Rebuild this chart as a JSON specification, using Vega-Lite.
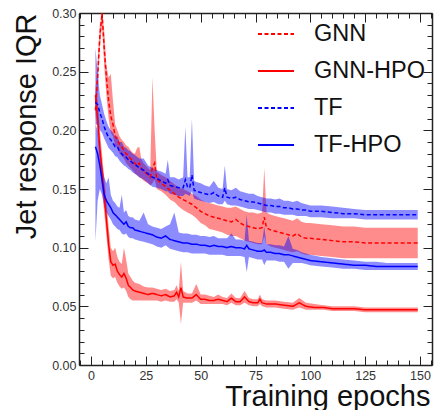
{
"$schema": "https://vega.github.io/schema/vega-lite/v6.json",
"width": 353, "height": 352,
"autosize": {"type": "none"},
"padding": {"left": 79, "top": 13, "right": 4, "bottom": 45},
"background": "white",
"config": {
  "view": {"stroke": null},
  "font": "Liberation Sans",
  "axis": {"grid": false, "domainColor": "#222", "domainWidth": 1.5, "tickColor": "#222", "tickWidth": 1,
    "labelFont": "Liberation Sans", "labelFontSize": 12.5, "labelColor": "#333",
    "titleFont": "Liberation Sans", "titleFontSize": 29, "titleFontWeight": "normal", "titleColor": "#111"}
},
"data": {"values": [
{"s":"GNN","e":2,"y":0.217,"lo":0.208,"hi":0.228},
{"s":"GNN","e":3,"y":0.245,"lo":0.235,"hi":0.26},
{"s":"GNN","e":4,"y":0.28,"lo":0.27,"hi":0.29},
{"s":"GNN","e":5,"y":0.3,"lo":0.29,"hi":0.3},
{"s":"GNN","e":6,"y":0.27,"lo":0.255,"hi":0.285},
{"s":"GNN","e":7,"y":0.245,"lo":0.23,"hi":0.255},
{"s":"GNN","e":8,"y":0.225,"lo":0.21,"hi":0.245},
{"s":"GNN","e":9,"y":0.212,"lo":0.198,"hi":0.248},
{"s":"GNN","e":10,"y":0.205,"lo":0.195,"hi":0.225},
{"s":"GNN","e":11,"y":0.195,"lo":0.187,"hi":0.205},
{"s":"GNN","e":12,"y":0.192,"lo":0.185,"hi":0.2},
{"s":"GNN","e":13,"y":0.188,"lo":0.18,"hi":0.195},
{"s":"GNN","e":14,"y":0.186,"lo":0.178,"hi":0.192},
{"s":"GNN","e":15,"y":0.183,"lo":0.176,"hi":0.19},
{"s":"GNN","e":16,"y":0.18,"lo":0.172,"hi":0.187},
{"s":"GNN","e":17,"y":0.178,"lo":0.17,"hi":0.186},
{"s":"GNN","e":18,"y":0.176,"lo":0.168,"hi":0.183},
{"s":"GNN","e":19,"y":0.174,"lo":0.166,"hi":0.181},
{"s":"GNN","e":20,"y":0.172,"lo":0.163,"hi":0.18},
{"s":"GNN","e":21,"y":0.17,"lo":0.162,"hi":0.185},
{"s":"GNN","e":22,"y":0.172,"lo":0.16,"hi":0.186},
{"s":"GNN","e":23,"y":0.167,"lo":0.159,"hi":0.175},
{"s":"GNN","e":24,"y":0.165,"lo":0.157,"hi":0.172},
{"s":"GNN","e":26,"y":0.162,"lo":0.155,"hi":0.168},
{"s":"GNN","e":27,"y":0.16,"lo":0.153,"hi":0.166},
{"s":"GNN","e":28,"y":0.168,"lo":0.155,"hi":0.245},
{"s":"GNN","e":29,"y":0.172,"lo":0.158,"hi":0.2},
{"s":"GNN","e":30,"y":0.158,"lo":0.15,"hi":0.165},
{"s":"GNN","e":32,"y":0.155,"lo":0.148,"hi":0.162},
{"s":"GNN","e":34,"y":0.152,"lo":0.145,"hi":0.16},
{"s":"GNN","e":36,"y":0.149,"lo":0.141,"hi":0.157},
{"s":"GNN","e":38,"y":0.146,"lo":0.139,"hi":0.154},
{"s":"GNN","e":40,"y":0.143,"lo":0.135,"hi":0.151},
{"s":"GNN","e":42,"y":0.141,"lo":0.132,"hi":0.15},
{"s":"GNN","e":44,"y":0.139,"lo":0.13,"hi":0.148},
{"s":"GNN","e":46,"y":0.137,"lo":0.128,"hi":0.146},
{"s":"GNN","e":48,"y":0.134,"lo":0.125,"hi":0.144},
{"s":"GNN","e":50,"y":0.131,"lo":0.121,"hi":0.141},
{"s":"GNN","e":52,"y":0.129,"lo":0.119,"hi":0.139},
{"s":"GNN","e":54,"y":0.127,"lo":0.116,"hi":0.138},
{"s":"GNN","e":56,"y":0.126,"lo":0.115,"hi":0.137},
{"s":"GNN","e":58,"y":0.125,"lo":0.114,"hi":0.136},
{"s":"GNN","e":60,"y":0.124,"lo":0.113,"hi":0.135},
{"s":"GNN","e":62,"y":0.123,"lo":0.111,"hi":0.134},
{"s":"GNN","e":64,"y":0.122,"lo":0.11,"hi":0.134},
{"s":"GNN","e":66,"y":0.124,"lo":0.11,"hi":0.135},
{"s":"GNN","e":68,"y":0.121,"lo":0.108,"hi":0.133},
{"s":"GNN","e":70,"y":0.119,"lo":0.106,"hi":0.131},
{"s":"GNN","e":72,"y":0.118,"lo":0.105,"hi":0.13},
{"s":"GNN","e":74,"y":0.117,"lo":0.104,"hi":0.13},
{"s":"GNN","e":76,"y":0.116,"lo":0.103,"hi":0.129},
{"s":"GNN","e":78,"y":0.117,"lo":0.103,"hi":0.13},
{"s":"GNN","e":79,"y":0.126,"lo":0.11,"hi":0.168},
{"s":"GNN","e":80,"y":0.117,"lo":0.103,"hi":0.13},
{"s":"GNN","e":82,"y":0.115,"lo":0.101,"hi":0.128},
{"s":"GNN","e":84,"y":0.114,"lo":0.1,"hi":0.127},
{"s":"GNN","e":86,"y":0.113,"lo":0.099,"hi":0.126},
{"s":"GNN","e":88,"y":0.112,"lo":0.098,"hi":0.125},
{"s":"GNN","e":90,"y":0.111,"lo":0.097,"hi":0.124},
{"s":"GNN","e":92,"y":0.11,"lo":0.096,"hi":0.123},
{"s":"GNN","e":94,"y":0.112,"lo":0.097,"hi":0.125},
{"s":"GNN","e":96,"y":0.109,"lo":0.095,"hi":0.122},
{"s":"GNN","e":98,"y":0.108,"lo":0.094,"hi":0.121},
{"s":"GNN","e":100,"y":0.108,"lo":0.094,"hi":0.121},
{"s":"GNN","e":105,"y":0.107,"lo":0.093,"hi":0.12},
{"s":"GNN","e":110,"y":0.106,"lo":0.092,"hi":0.119},
{"s":"GNN","e":115,"y":0.105,"lo":0.091,"hi":0.118},
{"s":"GNN","e":120,"y":0.105,"lo":0.091,"hi":0.118},
{"s":"GNN","e":125,"y":0.104,"lo":0.091,"hi":0.117},
{"s":"GNN","e":130,"y":0.104,"lo":0.091,"hi":0.117},
{"s":"GNN","e":135,"y":0.104,"lo":0.091,"hi":0.117},
{"s":"GNN","e":140,"y":0.104,"lo":0.091,"hi":0.117},
{"s":"GNN","e":145,"y":0.104,"lo":0.091,"hi":0.117},
{"s":"GNN","e":149,"y":0.104,"lo":0.091,"hi":0.117},
{"s":"GNN-HPO","e":2,"y":0.23,"lo":0.22,"hi":0.24},
{"s":"GNN-HPO","e":3,"y":0.21,"lo":0.195,"hi":0.225},
{"s":"GNN-HPO","e":4,"y":0.185,"lo":0.17,"hi":0.2},
{"s":"GNN-HPO","e":5,"y":0.165,"lo":0.15,"hi":0.18},
{"s":"GNN-HPO","e":6,"y":0.145,"lo":0.13,"hi":0.16},
{"s":"GNN-HPO","e":7,"y":0.124,"lo":0.11,"hi":0.14},
{"s":"GNN-HPO","e":8,"y":0.103,"lo":0.09,"hi":0.118},
{"s":"GNN-HPO","e":9,"y":0.088,"lo":0.076,"hi":0.1},
{"s":"GNN-HPO","e":10,"y":0.085,"lo":0.074,"hi":0.097},
{"s":"GNN-HPO","e":11,"y":0.086,"lo":0.075,"hi":0.1},
{"s":"GNN-HPO","e":12,"y":0.08,"lo":0.07,"hi":0.092},
{"s":"GNN-HPO","e":13,"y":0.077,"lo":0.067,"hi":0.088},
{"s":"GNN-HPO","e":14,"y":0.075,"lo":0.065,"hi":0.086},
{"s":"GNN-HPO","e":15,"y":0.078,"lo":0.066,"hi":0.1},
{"s":"GNN-HPO","e":16,"y":0.074,"lo":0.063,"hi":0.09},
{"s":"GNN-HPO","e":17,"y":0.068,"lo":0.058,"hi":0.078},
{"s":"GNN-HPO","e":18,"y":0.066,"lo":0.056,"hi":0.075},
{"s":"GNN-HPO","e":19,"y":0.064,"lo":0.055,"hi":0.072},
{"s":"GNN-HPO","e":20,"y":0.063,"lo":0.055,"hi":0.07},
{"s":"GNN-HPO","e":22,"y":0.062,"lo":0.055,"hi":0.069},
{"s":"GNN-HPO","e":24,"y":0.061,"lo":0.055,"hi":0.067},
{"s":"GNN-HPO","e":26,"y":0.06,"lo":0.055,"hi":0.066},
{"s":"GNN-HPO","e":28,"y":0.061,"lo":0.055,"hi":0.066},
{"s":"GNN-HPO","e":30,"y":0.06,"lo":0.055,"hi":0.065},
{"s":"GNN-HPO","e":32,"y":0.059,"lo":0.054,"hi":0.064},
{"s":"GNN-HPO","e":34,"y":0.06,"lo":0.055,"hi":0.065},
{"s":"GNN-HPO","e":36,"y":0.058,"lo":0.054,"hi":0.063},
{"s":"GNN-HPO","e":38,"y":0.059,"lo":0.054,"hi":0.064},
{"s":"GNN-HPO","e":39,"y":0.062,"lo":0.056,"hi":0.068},
{"s":"GNN-HPO","e":40,"y":0.058,"lo":0.053,"hi":0.063},
{"s":"GNN-HPO","e":41,"y":0.066,"lo":0.035,"hi":0.088},
{"s":"GNN-HPO","e":42,"y":0.058,"lo":0.053,"hi":0.063},
{"s":"GNN-HPO","e":44,"y":0.057,"lo":0.053,"hi":0.061},
{"s":"GNN-HPO","e":46,"y":0.057,"lo":0.053,"hi":0.061},
{"s":"GNN-HPO","e":48,"y":0.06,"lo":0.055,"hi":0.069},
{"s":"GNN-HPO","e":50,"y":0.056,"lo":0.052,"hi":0.06},
{"s":"GNN-HPO","e":52,"y":0.056,"lo":0.052,"hi":0.06},
{"s":"GNN-HPO","e":54,"y":0.055,"lo":0.052,"hi":0.059},
{"s":"GNN-HPO","e":56,"y":0.055,"lo":0.052,"hi":0.058},
{"s":"GNN-HPO","e":58,"y":0.056,"lo":0.052,"hi":0.06},
{"s":"GNN-HPO","e":60,"y":0.055,"lo":0.052,"hi":0.058},
{"s":"GNN-HPO","e":62,"y":0.054,"lo":0.051,"hi":0.057},
{"s":"GNN-HPO","e":64,"y":0.057,"lo":0.053,"hi":0.061},
{"s":"GNN-HPO","e":66,"y":0.054,"lo":0.051,"hi":0.057},
{"s":"GNN-HPO","e":68,"y":0.054,"lo":0.051,"hi":0.057},
{"s":"GNN-HPO","e":70,"y":0.058,"lo":0.053,"hi":0.063},
{"s":"GNN-HPO","e":72,"y":0.054,"lo":0.051,"hi":0.057},
{"s":"GNN-HPO","e":74,"y":0.053,"lo":0.05,"hi":0.056},
{"s":"GNN-HPO","e":76,"y":0.053,"lo":0.05,"hi":0.056},
{"s":"GNN-HPO","e":77,"y":0.056,"lo":0.052,"hi":0.06},
{"s":"GNN-HPO","e":78,"y":0.053,"lo":0.05,"hi":0.056},
{"s":"GNN-HPO","e":80,"y":0.052,"lo":0.049,"hi":0.055},
{"s":"GNN-HPO","e":84,"y":0.052,"lo":0.049,"hi":0.055},
{"s":"GNN-HPO","e":88,"y":0.051,"lo":0.048,"hi":0.054},
{"s":"GNN-HPO","e":92,"y":0.05,"lo":0.047,"hi":0.053},
{"s":"GNN-HPO","e":95,"y":0.053,"lo":0.049,"hi":0.057},
{"s":"GNN-HPO","e":98,"y":0.05,"lo":0.047,"hi":0.053},
{"s":"GNN-HPO","e":102,"y":0.049,"lo":0.047,"hi":0.052},
{"s":"GNN-HPO","e":106,"y":0.049,"lo":0.047,"hi":0.051},
{"s":"GNN-HPO","e":110,"y":0.048,"lo":0.046,"hi":0.05},
{"s":"GNN-HPO","e":115,"y":0.048,"lo":0.046,"hi":0.05},
{"s":"GNN-HPO","e":120,"y":0.048,"lo":0.046,"hi":0.05},
{"s":"GNN-HPO","e":125,"y":0.047,"lo":0.045,"hi":0.049},
{"s":"GNN-HPO","e":130,"y":0.047,"lo":0.045,"hi":0.049},
{"s":"GNN-HPO","e":135,"y":0.047,"lo":0.045,"hi":0.049},
{"s":"GNN-HPO","e":140,"y":0.047,"lo":0.045,"hi":0.049},
{"s":"GNN-HPO","e":145,"y":0.047,"lo":0.045,"hi":0.049},
{"s":"GNN-HPO","e":149,"y":0.047,"lo":0.045,"hi":0.049},
{"s":"TF","e":2,"y":0.224,"lo":0.205,"hi":0.27},
{"s":"TF","e":3,"y":0.222,"lo":0.205,"hi":0.25},
{"s":"TF","e":4,"y":0.215,"lo":0.2,"hi":0.23},
{"s":"TF","e":5,"y":0.21,"lo":0.198,"hi":0.222},
{"s":"TF","e":6,"y":0.203,"lo":0.193,"hi":0.214},
{"s":"TF","e":7,"y":0.198,"lo":0.189,"hi":0.208},
{"s":"TF","e":8,"y":0.194,"lo":0.185,"hi":0.203},
{"s":"TF","e":9,"y":0.192,"lo":0.183,"hi":0.2},
{"s":"TF","e":10,"y":0.189,"lo":0.181,"hi":0.198},
{"s":"TF","e":11,"y":0.186,"lo":0.178,"hi":0.194},
{"s":"TF","e":12,"y":0.186,"lo":0.177,"hi":0.195},
{"s":"TF","e":13,"y":0.182,"lo":0.174,"hi":0.19},
{"s":"TF","e":14,"y":0.18,"lo":0.172,"hi":0.19},
{"s":"TF","e":15,"y":0.178,"lo":0.17,"hi":0.186},
{"s":"TF","e":16,"y":0.177,"lo":0.169,"hi":0.185},
{"s":"TF","e":17,"y":0.175,"lo":0.167,"hi":0.183},
{"s":"TF","e":18,"y":0.174,"lo":0.166,"hi":0.182},
{"s":"TF","e":19,"y":0.172,"lo":0.164,"hi":0.18},
{"s":"TF","e":20,"y":0.171,"lo":0.163,"hi":0.179},
{"s":"TF","e":22,"y":0.168,"lo":0.16,"hi":0.176},
{"s":"TF","e":24,"y":0.166,"lo":0.158,"hi":0.176},
{"s":"TF","e":26,"y":0.163,"lo":0.155,"hi":0.17},
{"s":"TF","e":28,"y":0.16,"lo":0.152,"hi":0.168},
{"s":"TF","e":30,"y":0.159,"lo":0.151,"hi":0.166},
{"s":"TF","e":32,"y":0.157,"lo":0.15,"hi":0.165},
{"s":"TF","e":34,"y":0.155,"lo":0.148,"hi":0.163},
{"s":"TF","e":35,"y":0.158,"lo":0.148,"hi":0.175},
{"s":"TF","e":36,"y":0.153,"lo":0.146,"hi":0.16},
{"s":"TF","e":38,"y":0.152,"lo":0.145,"hi":0.16},
{"s":"TF","e":40,"y":0.151,"lo":0.144,"hi":0.158},
{"s":"TF","e":42,"y":0.151,"lo":0.144,"hi":0.16},
{"s":"TF","e":43,"y":0.158,"lo":0.146,"hi":0.203},
{"s":"TF","e":44,"y":0.152,"lo":0.145,"hi":0.16},
{"s":"TF","e":45,"y":0.151,"lo":0.144,"hi":0.16},
{"s":"TF","e":46,"y":0.162,"lo":0.148,"hi":0.21},
{"s":"TF","e":47,"y":0.149,"lo":0.142,"hi":0.157},
{"s":"TF","e":48,"y":0.148,"lo":0.141,"hi":0.156},
{"s":"TF","e":50,"y":0.147,"lo":0.14,"hi":0.155},
{"s":"TF","e":52,"y":0.146,"lo":0.139,"hi":0.153},
{"s":"TF","e":54,"y":0.145,"lo":0.138,"hi":0.152},
{"s":"TF","e":56,"y":0.147,"lo":0.139,"hi":0.157},
{"s":"TF","e":58,"y":0.144,"lo":0.137,"hi":0.151},
{"s":"TF","e":60,"y":0.143,"lo":0.137,"hi":0.15},
{"s":"TF","e":61,"y":0.151,"lo":0.14,"hi":0.17},
{"s":"TF","e":62,"y":0.143,"lo":0.137,"hi":0.15},
{"s":"TF","e":64,"y":0.142,"lo":0.136,"hi":0.149},
{"s":"TF","e":66,"y":0.143,"lo":0.136,"hi":0.151},
{"s":"TF","e":68,"y":0.141,"lo":0.135,"hi":0.148},
{"s":"TF","e":70,"y":0.14,"lo":0.134,"hi":0.147},
{"s":"TF","e":72,"y":0.139,"lo":0.133,"hi":0.146},
{"s":"TF","e":74,"y":0.139,"lo":0.133,"hi":0.146},
{"s":"TF","e":76,"y":0.138,"lo":0.132,"hi":0.144},
{"s":"TF","e":78,"y":0.137,"lo":0.131,"hi":0.143},
{"s":"TF","e":80,"y":0.136,"lo":0.13,"hi":0.142},
{"s":"TF","e":82,"y":0.136,"lo":0.13,"hi":0.142},
{"s":"TF","e":84,"y":0.135,"lo":0.129,"hi":0.141},
{"s":"TF","e":86,"y":0.135,"lo":0.129,"hi":0.142},
{"s":"TF","e":88,"y":0.134,"lo":0.128,"hi":0.14},
{"s":"TF","e":90,"y":0.134,"lo":0.128,"hi":0.14},
{"s":"TF","e":92,"y":0.133,"lo":0.128,"hi":0.139},
{"s":"TF","e":94,"y":0.133,"lo":0.127,"hi":0.14},
{"s":"TF","e":96,"y":0.132,"lo":0.127,"hi":0.138},
{"s":"TF","e":98,"y":0.132,"lo":0.127,"hi":0.137},
{"s":"TF","e":100,"y":0.131,"lo":0.126,"hi":0.136},
{"s":"TF","e":105,"y":0.131,"lo":0.126,"hi":0.136},
{"s":"TF","e":110,"y":0.13,"lo":0.125,"hi":0.135},
{"s":"TF","e":115,"y":0.129,"lo":0.125,"hi":0.134},
{"s":"TF","e":120,"y":0.129,"lo":0.125,"hi":0.133},
{"s":"TF","e":125,"y":0.128,"lo":0.124,"hi":0.132},
{"s":"TF","e":130,"y":0.128,"lo":0.124,"hi":0.132},
{"s":"TF","e":135,"y":0.128,"lo":0.124,"hi":0.132},
{"s":"TF","e":140,"y":0.128,"lo":0.124,"hi":0.132},
{"s":"TF","e":145,"y":0.128,"lo":0.124,"hi":0.132},
{"s":"TF","e":149,"y":0.128,"lo":0.124,"hi":0.132},
{"s":"TF-HPO","e":2,"y":0.186,"lo":0.105,"hi":0.205},
{"s":"TF-HPO","e":3,"y":0.18,"lo":0.14,"hi":0.2},
{"s":"TF-HPO","e":4,"y":0.17,"lo":0.15,"hi":0.185},
{"s":"TF-HPO","e":5,"y":0.158,"lo":0.145,"hi":0.17},
{"s":"TF-HPO","e":6,"y":0.145,"lo":0.135,"hi":0.16},
{"s":"TF-HPO","e":7,"y":0.14,"lo":0.13,"hi":0.155},
{"s":"TF-HPO","e":8,"y":0.137,"lo":0.127,"hi":0.16},
{"s":"TF-HPO","e":9,"y":0.134,"lo":0.124,"hi":0.145},
{"s":"TF-HPO","e":10,"y":0.13,"lo":0.12,"hi":0.14},
{"s":"TF-HPO","e":11,"y":0.128,"lo":0.118,"hi":0.138},
{"s":"TF-HPO","e":12,"y":0.126,"lo":0.116,"hi":0.135},
{"s":"TF-HPO","e":13,"y":0.124,"lo":0.115,"hi":0.134},
{"s":"TF-HPO","e":14,"y":0.122,"lo":0.112,"hi":0.145},
{"s":"TF-HPO","e":15,"y":0.12,"lo":0.111,"hi":0.13},
{"s":"TF-HPO","e":16,"y":0.122,"lo":0.112,"hi":0.132},
{"s":"TF-HPO","e":17,"y":0.118,"lo":0.109,"hi":0.127},
{"s":"TF-HPO","e":18,"y":0.117,"lo":0.108,"hi":0.126},
{"s":"TF-HPO","e":19,"y":0.117,"lo":0.108,"hi":0.126},
{"s":"TF-HPO","e":20,"y":0.115,"lo":0.107,"hi":0.124},
{"s":"TF-HPO","e":22,"y":0.114,"lo":0.106,"hi":0.123},
{"s":"TF-HPO","e":24,"y":0.113,"lo":0.105,"hi":0.13},
{"s":"TF-HPO","e":26,"y":0.112,"lo":0.104,"hi":0.12},
{"s":"TF-HPO","e":28,"y":0.111,"lo":0.103,"hi":0.118},
{"s":"TF-HPO","e":30,"y":0.109,"lo":0.101,"hi":0.117},
{"s":"TF-HPO","e":32,"y":0.108,"lo":0.1,"hi":0.116},
{"s":"TF-HPO","e":34,"y":0.11,"lo":0.102,"hi":0.118},
{"s":"TF-HPO","e":36,"y":0.107,"lo":0.099,"hi":0.12},
{"s":"TF-HPO","e":38,"y":0.106,"lo":0.098,"hi":0.13},
{"s":"TF-HPO","e":40,"y":0.105,"lo":0.097,"hi":0.113},
{"s":"TF-HPO","e":42,"y":0.104,"lo":0.096,"hi":0.112},
{"s":"TF-HPO","e":44,"y":0.104,"lo":0.096,"hi":0.112},
{"s":"TF-HPO","e":46,"y":0.103,"lo":0.095,"hi":0.111},
{"s":"TF-HPO","e":48,"y":0.103,"lo":0.095,"hi":0.111},
{"s":"TF-HPO","e":50,"y":0.102,"lo":0.095,"hi":0.11},
{"s":"TF-HPO","e":52,"y":0.102,"lo":0.095,"hi":0.11},
{"s":"TF-HPO","e":54,"y":0.101,"lo":0.094,"hi":0.109},
{"s":"TF-HPO","e":56,"y":0.102,"lo":0.094,"hi":0.11},
{"s":"TF-HPO","e":58,"y":0.101,"lo":0.094,"hi":0.108},
{"s":"TF-HPO","e":60,"y":0.101,"lo":0.094,"hi":0.108},
{"s":"TF-HPO","e":62,"y":0.1,"lo":0.093,"hi":0.108},
{"s":"TF-HPO","e":64,"y":0.101,"lo":0.093,"hi":0.112},
{"s":"TF-HPO","e":66,"y":0.1,"lo":0.093,"hi":0.107},
{"s":"TF-HPO","e":68,"y":0.1,"lo":0.093,"hi":0.107},
{"s":"TF-HPO","e":70,"y":0.099,"lo":0.092,"hi":0.106},
{"s":"TF-HPO","e":71,"y":0.102,"lo":0.079,"hi":0.128},
{"s":"TF-HPO","e":72,"y":0.099,"lo":0.092,"hi":0.106},
{"s":"TF-HPO","e":74,"y":0.098,"lo":0.091,"hi":0.105},
{"s":"TF-HPO","e":76,"y":0.097,"lo":0.09,"hi":0.104},
{"s":"TF-HPO","e":78,"y":0.097,"lo":0.09,"hi":0.104},
{"s":"TF-HPO","e":79,"y":0.098,"lo":0.085,"hi":0.118},
{"s":"TF-HPO","e":80,"y":0.096,"lo":0.089,"hi":0.103},
{"s":"TF-HPO","e":82,"y":0.096,"lo":0.089,"hi":0.103},
{"s":"TF-HPO","e":84,"y":0.095,"lo":0.089,"hi":0.102},
{"s":"TF-HPO","e":86,"y":0.095,"lo":0.088,"hi":0.102},
{"s":"TF-HPO","e":88,"y":0.094,"lo":0.088,"hi":0.101},
{"s":"TF-HPO","e":90,"y":0.094,"lo":0.082,"hi":0.11},
{"s":"TF-HPO","e":92,"y":0.093,"lo":0.087,"hi":0.099},
{"s":"TF-HPO","e":94,"y":0.092,"lo":0.087,"hi":0.098},
{"s":"TF-HPO","e":96,"y":0.091,"lo":0.087,"hi":0.096},
{"s":"TF-HPO","e":98,"y":0.09,"lo":0.086,"hi":0.095},
{"s":"TF-HPO","e":100,"y":0.089,"lo":0.085,"hi":0.094},
{"s":"TF-HPO","e":105,"y":0.088,"lo":0.084,"hi":0.092},
{"s":"TF-HPO","e":110,"y":0.087,"lo":0.083,"hi":0.091},
{"s":"TF-HPO","e":115,"y":0.086,"lo":0.082,"hi":0.09},
{"s":"TF-HPO","e":120,"y":0.085,"lo":0.082,"hi":0.089},
{"s":"TF-HPO","e":125,"y":0.085,"lo":0.081,"hi":0.088},
{"s":"TF-HPO","e":130,"y":0.084,"lo":0.081,"hi":0.088},
{"s":"TF-HPO","e":135,"y":0.084,"lo":0.081,"hi":0.087},
{"s":"TF-HPO","e":140,"y":0.084,"lo":0.081,"hi":0.087},
{"s":"TF-HPO","e":145,"y":0.084,"lo":0.081,"hi":0.087},
{"s":"TF-HPO","e":149,"y":0.084,"lo":0.081,"hi":0.087}
]},
"resolve": {"axis": {"x": "independent", "y": "independent"}},
"layer": [
  {
    "transform": [{"filter": {"field": "s", "oneOf": ["GNN", "GNN-HPO"]}}],
    "mark": {"type": "area", "color": "#ff0000", "opacity": 0.45, "clip": true},
    "encoding": {
      "x": {"field": "e", "type": "quantitative", "scale": {"domain": [-5.5, 155.5], "nice": false, "zero": false},
        "axis": {"orient": "bottom", "values": [-5,0,5,10,15,20,25,30,35,40,45,50,55,60,65,70,75,80,85,90,95,100,105,110,115,120,125,130,135,140,145,150,155],
          "labelExpr": "datum.value % 25 === 0 ? format(datum.value, 'd') : ''",
          "tickSize": {"condition": {"test": "datum.value % 25 === 0", "value": -9}, "value": -5},
          "labelPadding": 13, "labelFlush": false, "labelOverlap": false,
          "title": "Training epochs", "titleAlign": "right", "titleAnchor": "end", "titleX": 351, "titleY": 40, "titleBaseline": "alphabetic"}},
      "y": {"field": "lo", "type": "quantitative", "scale": {"domain": [0, 0.3], "nice": false, "zero": false},
        "axis": {"orient": "left", "values": [0,0.01,0.02,0.03,0.04,0.05,0.06,0.07,0.08,0.09,0.1,0.11,0.12,0.13,0.14,0.15,0.16,0.17,0.18,0.19,0.2,0.21,0.22,0.23,0.24,0.25,0.26,0.27,0.28,0.29,0.3],
          "labelExpr": "round(datum.value*100) % 5 === 0 ? format(datum.value, '.2f') : ''",
          "tickSize": {"condition": {"test": "round(datum.value*100) % 5 === 0", "value": -9}, "value": -5},
          "labelPadding": 12, "labelFlush": false, "labelOverlap": false,
          "title": "Jet response IQR", "titleAngle": -90, "titleAlign": "right", "titleAnchor": "end", "titleX": -44, "titleY": 0, "titleBaseline": "alphabetic"}},
      "y2": {"field": "hi"},
      "detail": {"field": "s", "type": "nominal"}
    }
  },
  {
    "transform": [{"filter": {"field": "s", "oneOf": ["TF", "TF-HPO"]}}],
    "mark": {"type": "area", "color": "#0000ff", "opacity": 0.45, "clip": true},
    "encoding": {
      "x": {"field": "e", "type": "quantitative", "axis": null},
      "y": {"field": "lo", "type": "quantitative", "axis": null},
      "y2": {"field": "hi"},
      "detail": {"field": "s", "type": "nominal"}
    }
  },
  {
    "mark": {"type": "line", "strokeWidth": 1.5, "clip": true},
    "encoding": {
      "x": {"field": "e", "type": "quantitative",
        "axis": {"orient": "top", "values": [-5,0,5,10,15,20,25,30,35,40,45,50,55,60,65,70,75,80,85,90,95,100,105,110,115,120,125,130,135,140,145,150,155],
          "labels": false, "title": null,
          "tickSize": {"condition": {"test": "datum.value % 25 === 0", "value": -9}, "value": -5}}},
      "y": {"field": "y", "type": "quantitative",
        "axis": {"orient": "right", "values": [0,0.01,0.02,0.03,0.04,0.05,0.06,0.07,0.08,0.09,0.1,0.11,0.12,0.13,0.14,0.15,0.16,0.17,0.18,0.19,0.2,0.21,0.22,0.23,0.24,0.25,0.26,0.27,0.28,0.29,0.3],
          "labels": false, "title": null,
          "tickSize": {"condition": {"test": "round(datum.value*100) % 5 === 0", "value": -9}, "value": -5}}},
      "color": {"field": "s", "type": "nominal", "scale": {"domain": ["GNN", "GNN-HPO", "TF", "TF-HPO"], "range": ["#ff0000", "#ff0000", "#0000ff", "#0000ff"]},
        "legend": {"title": null, "orient": "none", "legendX": 178, "legendY": 2, "symbolType": "stroke", "symbolSize": 1296, "symbolStrokeWidth": 1.8, "symbolOpacity": 1,
          "labelFont": "Liberation Sans", "labelFontSize": 23.5, "labelColor": "#111", "labelOffset": 19, "rowPadding": 6, "padding": 0}},
      "strokeDash": {"field": "s", "type": "nominal", "scale": {"domain": ["GNN", "GNN-HPO", "TF", "TF-HPO"], "range": [[4, 2.5], [1, 0], [4, 2.5], [1, 0]]},
        "legend": {"title": null, "orient": "none", "legendX": 178, "legendY": 2, "symbolType": "stroke", "symbolSize": 1296, "symbolStrokeWidth": 1.8, "symbolOpacity": 1,
          "labelFont": "Liberation Sans", "labelFontSize": 23.5, "labelColor": "#111", "labelOffset": 19, "rowPadding": 6, "padding": 0}}
    }
  }
]
}
